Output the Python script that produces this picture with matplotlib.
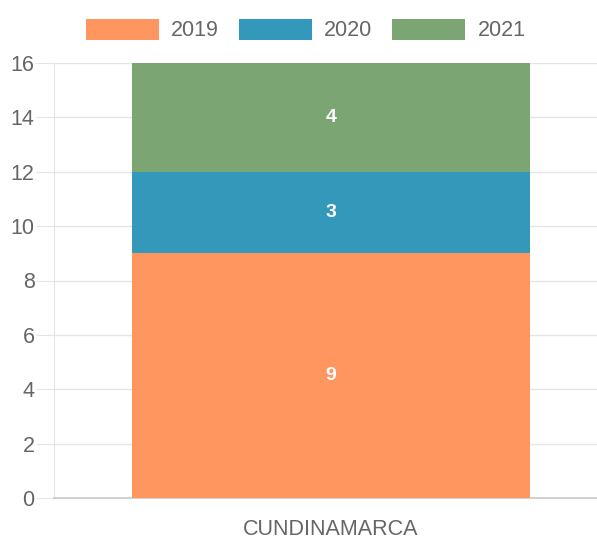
import matplotlib
matplotlib.use("Agg")
import matplotlib.pyplot as plt
import numpy as np

categories = ["CUNDINAMARCA"]
years = ["2019", "2020", "2021"]
values = {"2019": [9], "2020": [3], "2021": [4]}
colors = {"2019": "#ff955f", "2020": "#3498ba", "2021": "#7ba673"}
yticks = [0, 2, 4, 6, 8, 10, 12, 14, 16]

plt.rcParams["font.family"] = ["Liberation Sans", "DejaVu Sans"]
GRID = "#e5e5e5"
TXT = "#666666"
FS = 15.5

fig = plt.figure(figsize=(5.97, 5.40), dpi=100)
ax = fig.add_axes([54 / 597, 1 - 498 / 540, 1 - 54 / 597, (498 - 63) / 540])

x = np.arange(len(categories))
bottom = np.zeros(len(categories))
handles = []
for yr in years:
    v = np.array(values[yr], float)
    b = ax.bar(x, v, 0.72, bottom=bottom, color=colors[yr], label=yr,
               edgecolor="none", zorder=3)
    handles.append(b)
    for xi, vi, bi in zip(x, v, bottom):
        ax.text(xi, bi + vi / 2, f"{vi:g}", ha="center", va="center",
                color="white", fontsize=14, fontweight="bold", zorder=4)
    bottom += v

ax.set_ylim(0, 16)
ax.set_xlim(-0.501, 0.481)
ax.set_yticks(yticks)
ax.set_xticks(x, categories)
ax.grid(axis="y", color=GRID, lw=1, zorder=0)
for s in ["top", "right"]:
    ax.spines[s].set_visible(False)
ax.spines["left"].set_color(GRID)
ax.spines["bottom"].set_color("#c8c8c8")
ax.spines["bottom"].set_linewidth(1.2)
ax.tick_params(axis="y", length=13, color=GRID, labelcolor=TXT, labelsize=FS, pad=1)
ax.tick_params(axis="x", length=0, labelcolor=TXT, labelsize=FS, pad=15)

fig.legend(handles=handles, labels=years, loc="center",
           bbox_to_anchor=(305.5 / 597, 1 - 30 / 540), ncol=3, frameon=False,
           fontsize=FS, labelcolor=TXT, handlelength=3.4, handleheight=1.12,
           handletextpad=0.56, columnspacing=0.93, borderpad=0)

fig.savefig("out.png", dpi=100)
